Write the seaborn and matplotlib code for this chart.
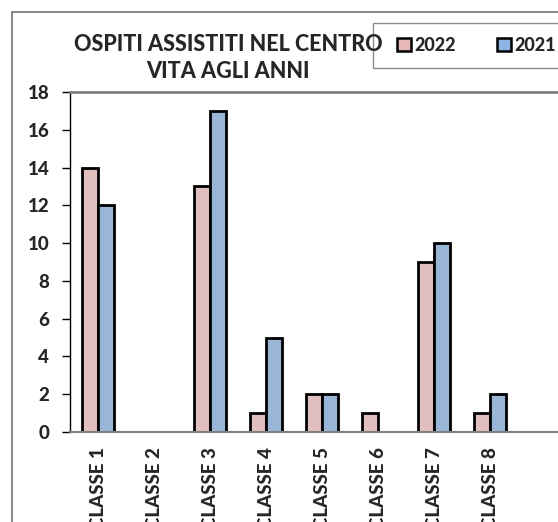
import matplotlib
matplotlib.use("Agg")
import matplotlib.pyplot as plt
from matplotlib.patches import Rectangle
import seaborn as sns
import pandas as pd
import numpy as np

categories = ["CLASSE 1", "CLASSE 2", "CLASSE 3", "CLASSE 4", "CLASSE 5", "CLASSE 6", "CLASSE 7", "CLASSE 8"]
values_2022 = [14, 0, 13, 1, 2, 1, 9, 1]
values_2021 = [12, 0, 17, 5, 2, 0, 10, 2]
series = ["2022", "2021"]
yticks = [0, 2, 4, 6, 8, 10, 12, 14, 16, 18]
title = "OSPITI ASSISTITI NEL CENTRO\nVITA AGLI ANNI"

sns.set_theme(style="white")
plt.rcParams['font.family'] = ['Lato', 'DejaVu Sans']
WEIGHT = 900

df = pd.DataFrame({
    "cat": categories * 2,
    "val": values_2022 + values_2021,
    "serie": [series[0]] * len(categories) + [series[1]] * len(categories),
})

W, H = 558, 522
fig = plt.figure(figsize=(W / 100, H / 100), dpi=100)
fig.patch.set_facecolor("white")

# outer chart border
fig.patches.append(Rectangle((12 / W, -0.1), 1.2, (H - 12) / H + 0.1, transform=fig.transFigure,
                             fill=False, edgecolor="#8c8c8c", linewidth=1.5))

ax = fig.add_axes([70 / W, 90 / H, 504 / W, 340 / H])
colors = {"2022": "#E6B9B8", "2021": "#8EB4E3"}
sns.barplot(data=df, x="cat", y="val", hue="serie", order=categories, hue_order=series,
            palette=colors, width=0.56, edgecolor="black", linewidth=2, ax=ax, legend=False)

ax.set_xlim(-0.5, 8.5)
ax.set_ylim(0, 18)
ax.set_yticks(yticks)
ax.set_yticklabels([str(t) for t in yticks], fontweight=WEIGHT, fontsize=13.5)
ax.set_xticks(np.arange(-0.5, 9, 1.0))
ax.set_xticklabels([])
ax.set_xticks(np.arange(len(categories)), minor=True)
ax.set_xticklabels(categories, minor=True, rotation=90, fontweight=WEIGHT, fontsize=13.5, va="top")
ax.tick_params(axis="x", which="major", direction="out", length=6, width=1, color="#7f7f7f")
ax.tick_params(axis="x", which="minor", length=0, pad=11)
ax.tick_params(axis="y", direction="out", length=6, width=1, color="black", left=True, pad=9)
ax.set_xlabel("")
ax.set_ylabel("")
ax.spines["right"].set_visible(False)
ax.spines["left"].set_color("black")
ax.spines["left"].set_linewidth(1)
ax.spines["bottom"].set_color("#7f7f7f")
ax.spines["bottom"].set_linewidth(1.5)
ax.spines["top"].set_color("#7f7f7f")
ax.spines["top"].set_linewidth(2)
ax.grid(False)

fig.text(228 / W, 1 - 58 / H, title, ha="center", va="center", fontsize=15.5,
         fontweight=WEIGHT, linespacing=1.4)

# legend box
fig.patches.append(Rectangle((373 / W, 1 - 68 / H), 0.5, 45 / H, transform=fig.transFigure,
                             fill=False, edgecolor="#8c8c8c", linewidth=1))
handles = [Rectangle((0, 0), 1, 1, facecolor=colors[s], edgecolor="black", linewidth=1.8) for s in series]
leg = fig.legend(handles, series, loc="center left", bbox_to_anchor=(397 / W, 1 - 45 / H),
                 ncol=2, frameon=False, prop={"weight": WEIGHT, "size": 13},
                 handlelength=0.75, handleheight=0.75, handletextpad=0.2, columnspacing=2.3,
                 borderaxespad=0, borderpad=0)

fig.savefig("out.png", dpi=100)
